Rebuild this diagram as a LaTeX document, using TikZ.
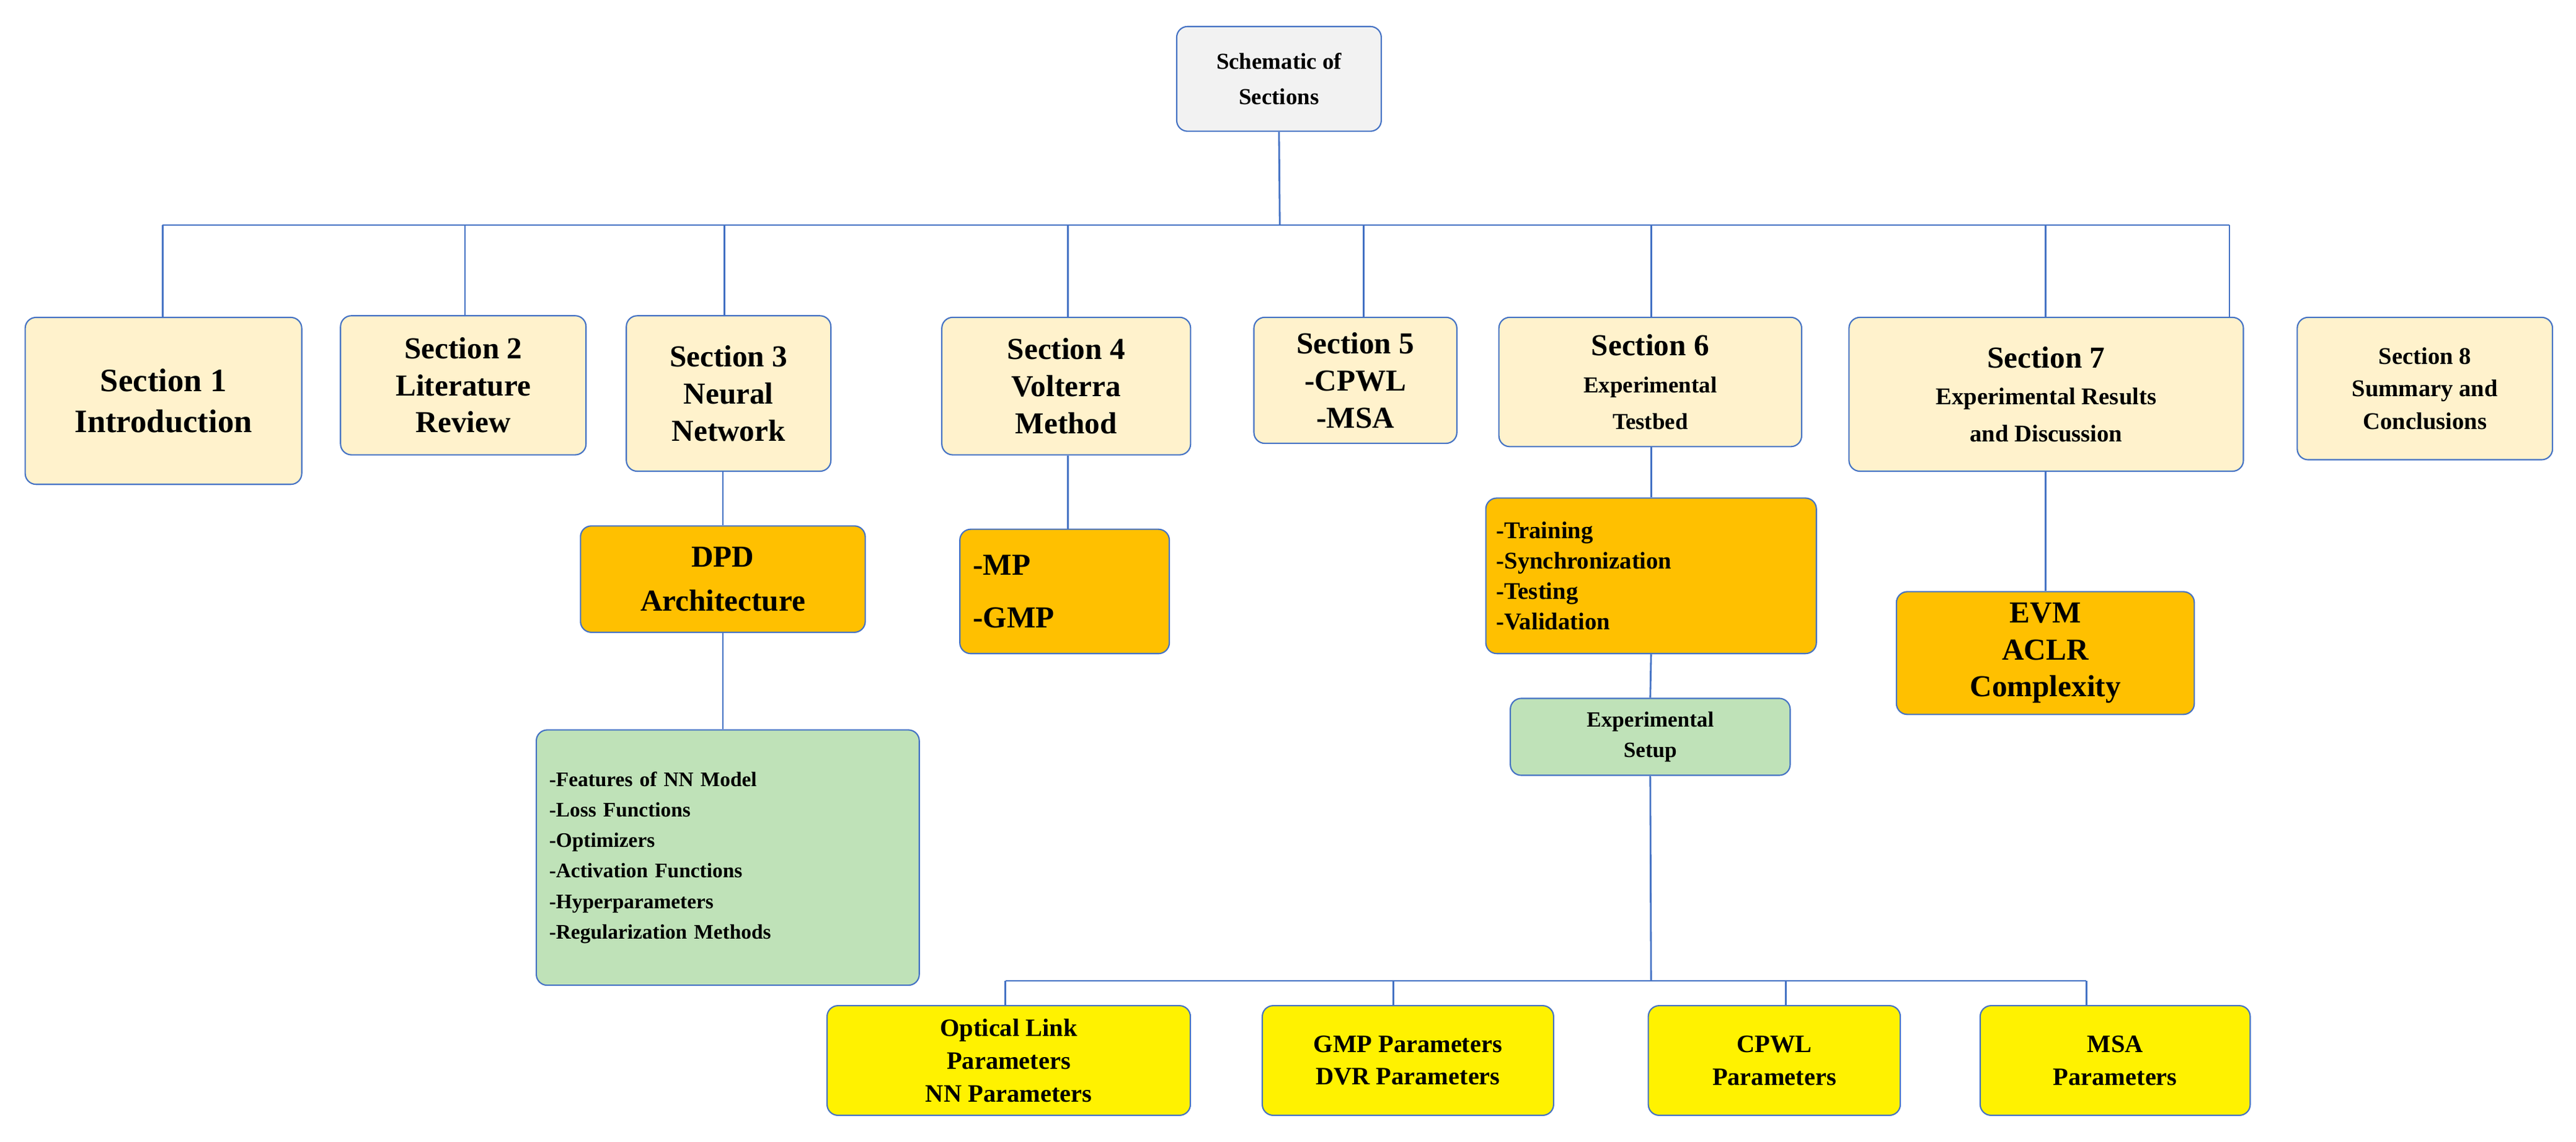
\documentclass[tikz,border=0pt]{standalone}
\usepackage{fontspec}
\setmainfont{Liberation Serif}
\begin{document}
\begin{tikzpicture}[x=0.0265cm,y=-0.0265cm]
\definecolor{secf}{HTML}{FFF2CC}
\definecolor{grnf}{HTML}{BFE2B8}
\definecolor{orgf}{HTML}{FFC000}
\definecolor{topf}{HTML}{F2F2F2}
\definecolor{lnc}{HTML}{4472C4}
\tikzset{
  box/.style={draw=lnc, line width=0.6pt, rounded corners=5pt, align=center, inner sep=2pt},
  sec/.style={box, fill=secf},
  org/.style={box, fill=orgf},
  grn/.style={box, fill=grnf},
  ylw/.style={box, fill=yellow},
  ln/.style={draw=lnc, line width=0.8pt},
  sz/.style 2 args={minimum width={#1*0.7512pt}, minimum height={#2*0.7512pt}},
  fs/.style 2 args={font=\bfseries\fontsize{#1}{#2}\selectfont}}
\useasboundingbox (0,0) rectangle (1568,695);
\node[box, fill=topf, sz={125}{64}, fs={10.5}{16}] (top) at (778.5,48) {Schematic of\\Sections};
\node[sec, sz={169}{102}, fs={15}{19}] (s1) at (99.5,244) {Section 1\\Introduction};
\node[sec, sz={150}{85}, fs={14}{17}] (s2) at (282,234.5) {Section 2\\Literature\\Review};
\node[sec, sz={125}{95}, fs={14}{17}] (s3) at (443.5,239.5) {Section 3\\Neural\\Network};
\node[sec, sz={152}{84}, fs={14}{17}] (s4) at (649,235) {Section 4\\Volterra\\Method};
\node[sec, sz={124}{77}, fs={14}{17}] (s5) at (825,231.5) {Section 5\\-CPWL\\-MSA};
\node[sec, sz={185}{79}, fs={14}{17}] (s6) at (1004.5,232.5) {Section 6\\{\fontsize{10.5}{15}\selectfont Experimental}\\{\fontsize{10.5}{15}\selectfont Testbed}};
\node[sec, sz={241}{94}, fs={14}{17}] (s7) at (1245.5,240) {Section 7\\{\fontsize{11}{15}\selectfont Experimental Results}\\{\fontsize{11}{15}\selectfont and Discussion}};
\node[sec, sz={156}{87}, fs={11}{15}] (s8) at (1476,236.5) {Section 8\\Summary and\\Conclusions};
\node[org, sz={174}{65}, fs={14}{20}] (dpd) at (440,352.5) {DPD\\Architecture};
\node[org, sz={128}{76}, fs={14}{24}, align=left, text width=84pt] (mp) at (648,360) {-MP\\-GMP};
\node[org, sz={202}{95}, fs={11}{14}, align=left, text width=142pt] (tr) at (1005,350.5) {-Training\\-Synchronization\\-Testing\\-Validation};
\node[org, sz={182}{75}, fs={14}{17}] (evm) at (1245,397.5) {EVM\\ACLR\\Complexity};
\node[grn, sz={234}{156}, fs={9.5}{14}, align=left, text width=164pt] (feat) at (443,522) {-Features of NN Model\\-Loss Functions\\-Optimizers\\-Activation Functions\\-Hyperparameters\\-Regularization Methods\\[10pt]};
\node[grn, sz={171}{47}, fs={10}{14}] (setup) at (1004.5,448.5) {Experimental\\Setup};
\node[ylw, sz={222}{67}, fs={11.5}{15}] (y1) at (614,645.5) {Optical Link\\Parameters\\NN Parameters};
\node[ylw, sz={178}{67}, fs={11.5}{15}] (y2) at (857,645.5) {GMP Parameters\\DVR Parameters};
\node[ylw, sz={154}{67}, fs={11.5}{15}] (y3) at (1080,645.5) {CPWL\\Parameters};
\node[ylw, sz={165}{67}, fs={11.5}{15}] (y4) at (1287.5,645.5) {MSA\\Parameters};
% bus 1
\coordinate (bus) at (779,137);
\coordinate (b1) at (99,137);
\coordinate (b8) at (1357,137);
\draw[ln] (top.south) -- (bus);
\draw[ln] (b1) -- (b8);
\draw[ln] (b1) -- (s1.north -| b1);
\draw[ln] (283,137) coordinate (b2) -- (s2.north -| b2);
\draw[ln] (441,137) coordinate (b3) -- (s3.north -| b3);
\draw[ln] (650,137) coordinate (b4) -- (s4.north -| b4);
\draw[ln] (830,137) coordinate (b5) -- (s5.north -| b5);
\draw[ln] (1005,137) coordinate (b6) -- (s6.north -| b6);
\draw[ln] (1245,137) coordinate (b7) -- (s7.north -| b7);
\draw[ln] (b8) -- (s8.north -| b8);
% branches
\draw[ln] (s3.south -| dpd) -- (dpd.north);
\draw[ln] (dpd.south) -- (feat.north -| dpd);
\draw[ln] (s4.south -| 650,0) -- (mp.north -| 650,0);
\draw[ln] (s6.south -| tr) -- (tr.north);
\draw[ln] (tr.south) -- (setup.north);
\draw[ln] (s7.south -| evm) -- (evm.north);
% bus 2
\coordinate (c0) at (1005,597);
\coordinate (c1) at (612,597);
\coordinate (c4) at (1270,597);
\draw[ln] (setup.south) -- (c0);
\draw[ln] (c1) -- (c4);
\draw[ln] (c1) -- (y1.north -| c1);
\draw[ln] (848,597) coordinate (c2) -- (y2.north -| c2);
\draw[ln] (1087,597) coordinate (c3) -- (y3.north -| c3);
\draw[ln] (c4) -- (y4.north -| c4);
\end{tikzpicture}
\end{document}
